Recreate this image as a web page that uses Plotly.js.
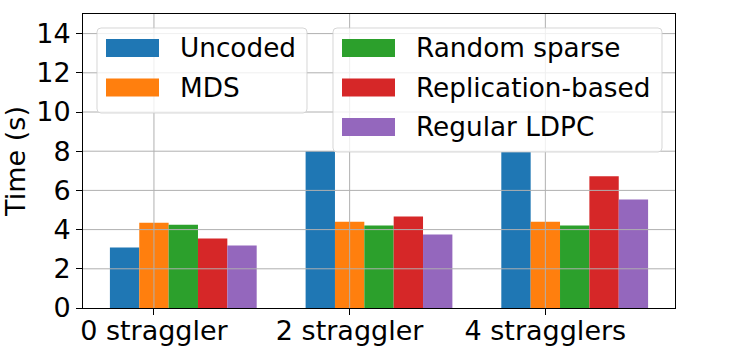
<!DOCTYPE html>
<html>
<head>
<meta charset="utf-8">
<script src="https://cdn.plot.ly/plotly-3.0.1.min.js"></script>
<style>
  html, body { margin: 0; padding: 0; background: #fff; }
  #plot { width: 750px; height: 350px; }
</style>
</head>
<body>
<div id="plot"></div>
<script>
// 数据
const groups = ['0 straggler', '2 straggler', '4 stragglers'];
const groupPos = [0, 1, 2];
const seriesNames = ['Uncoded', 'MDS', 'Random sparse', 'Replication-based', 'Regular LDPC'];
const uncoded = [3.09, 8.0, 7.97];
const mds = [4.35, 4.40, 4.40];
const randomSparse = [4.25, 4.21, 4.21];
const replication = [3.55, 4.67, 6.72];
const ldpc = [3.19, 3.75, 5.54];
const yTicks = [0, 2, 4, 6, 8, 10, 12, 14];

const colors = ['#1f77b4', '#ff7f0e', '#2ca02c', '#d62728', '#9467bd'];
const seriesValues = [uncoded, mds, randomSparse, replication, ldpc];
const barWidth = 0.15;
const FONT = 'DejaVu Sans, sans-serif';

// 绘图区域 (像素)
const M = { l: 83, r: 75, t: 14, b: 42 };
const W = 750, H = 350;
const pw = W - M.l - M.r, ph = H - M.t - M.b;
const px2x = p => (p - M.l) / pw;
const px2y = p => (H - M.b - p) / ph;

// 柱子: 每组中心在 MDS 柱上
const traces = seriesValues.map((vals, i) => ({
    type: 'bar',
    x: groupPos,
    y: vals,
    name: seriesNames[i],
    width: barWidth,
    offset: -barWidth * 1.5 + i * barWidth,
    marker: { color: colors[i], line: { width: 0 } },
    showlegend: false,
    hoverinfo: 'x+y+name'
}));

// 网格线画在柱子上面 (matplotlib 风格)
const shapes = [];
yTicks.filter(v => v > 0).forEach(v => {
    shapes.push({
        type: 'line', layer: 'above', xref: 'paper', yref: 'y',
        x0: 0, x1: 1, y0: v, y1: v,
        line: { color: '#b0b0b0', width: 1 }
    });
});
groupPos.forEach(v => {
    shapes.push({
        type: 'line', layer: 'above', xref: 'x', yref: 'paper',
        x0: v, x1: v, y0: 0, y1: 1,
        line: { color: '#b0b0b0', width: 1 }
    });
});

// 圆角矩形路径 (纸坐标)
function roundRect(x0p, y0p, x1p, y1p, r) {
    const a = px2x(x0p), b = px2x(x1p);
    const top = px2y(y0p), bot = px2y(y1p);
    const rx = r / pw, ry = r / ph;
    return 'M' + (a + rx) + ',' + top +
        ' L' + (b - rx) + ',' + top +
        ' Q' + b + ',' + top + ' ' + b + ',' + (top - ry) +
        ' L' + b + ',' + (bot + ry) +
        ' Q' + b + ',' + bot + ' ' + (b - rx) + ',' + bot +
        ' L' + (a + rx) + ',' + bot +
        ' Q' + a + ',' + bot + ' ' + a + ',' + (bot + ry) +
        ' L' + a + ',' + (top - ry) +
        ' Q' + a + ',' + top + ' ' + (a + rx) + ',' + top + ' Z';
}

// 两个图例框 (两列)
const legendBoxes = [
    { items: [0, 1], x0: 97, x1: 307, y0: 28, y1: 113 },
    { items: [2, 3, 4], x0: 333, x1: 662, y0: 28, y1: 152 }
];
const rowY = [48, 87.5, 127];
const annotations = [];
legendBoxes.forEach(box => {
    shapes.push({
        type: 'path', layer: 'above', xref: 'paper', yref: 'paper',
        path: roundRect(box.x0, box.y0, box.x1, box.y1, 4),
        fillcolor: 'rgba(255,255,255,0.8)',
        line: { color: 'rgba(204,204,204,0.8)', width: 1 }
    });
    box.items.forEach((idx, row) => {
        const cy = rowY[row];
        const sx = box.x0 + 9;
        shapes.push({
            type: 'rect', layer: 'above', xref: 'paper', yref: 'paper',
            x0: px2x(sx), x1: px2x(sx + 53),
            y0: px2y(cy - 9), y1: px2y(cy + 9),
            fillcolor: colors[idx], line: { width: 0 }
        });
        annotations.push({
            xref: 'paper', yref: 'paper',
            x: px2x(sx + 72), y: px2y(cy),
            xanchor: 'left', yanchor: 'middle',
            text: seriesNames[idx], showarrow: false,
            font: { family: FONT, size: 26.3, color: '#000' }
        });
    });
});

const layout = {
    width: W, height: H,
    margin: M,
    paper_bgcolor: '#fff', plot_bgcolor: '#fff',
    barmode: 'overlay',
    font: { family: FONT, size: 27, color: '#000' },
    xaxis: {
        range: [-0.3625, 2.6625],
        tickmode: 'array', tickvals: groupPos, ticktext: groups,
        showgrid: false, zeroline: false,
        showline: true, mirror: true, linecolor: '#000', linewidth: 1,
        ticks: 'outside', ticklen: 6, tickcolor: '#000',
        ticklabelstandoff: -7,
        tickfont: { family: FONT, size: 27, color: '#000' }
    },
    yaxis: {
        range: [0, 15],
        tickmode: 'array', tickvals: yTicks,
        showgrid: false, zeroline: false,
        showline: true, mirror: true, linecolor: '#000', linewidth: 1,
        ticks: 'outside', ticklen: 6, tickcolor: '#000',
        tickfont: { family: FONT, size: 27, color: '#000' },
        title: { text: 'Time (s)', standoff: 12, font: { family: FONT, size: 27, color: '#000' } }
    },
    shapes: shapes,
    annotations: annotations,
    showlegend: false
};

Plotly.newPlot('plot', traces, layout, { displayModeBar: false, staticPlot: true });
</script>
</body>
</html>
